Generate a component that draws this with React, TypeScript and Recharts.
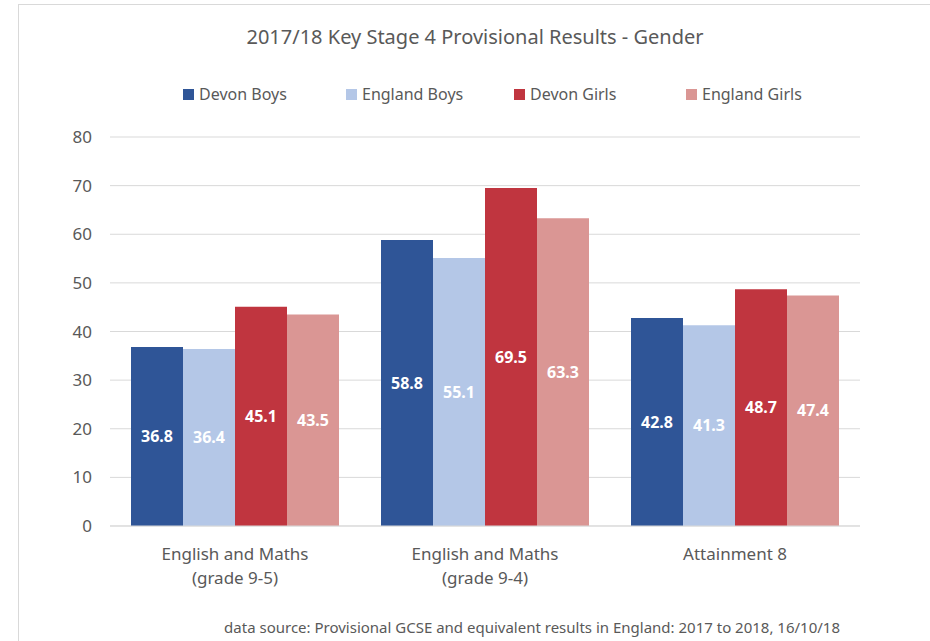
import React from 'react'
import { Bar, BarChart, CartesianGrid, LabelList, XAxis, YAxis } from 'recharts'

const categories = ['English and Maths|(grade 9-5)', 'English and Maths|(grade 9-4)', 'Attainment 8']
const devonBoys = [36.8, 58.8, 42.8]
const englandBoys = [36.4, 55.1, 41.3]
const devonGirls = [45.1, 69.5, 48.7]
const englandGirls = [43.5, 63.3, 47.4]
const yTicks = [0, 10, 20, 30, 40, 50, 60, 70, 80]

const seriesList = [
  { key: 'devonBoys', name: 'Devon Boys', color: '#2F5597' },
  { key: 'englandBoys', name: 'England Boys', color: '#B4C7E7' },
  { key: 'devonGirls', name: 'Devon Girls', color: '#C0353F' },
  { key: 'englandGirls', name: 'England Girls', color: '#DA9694' },
]
const legendLeft = [183, 346, 514, 686]

const chartData = categories.map((name, i) => ({
  name,
  devonBoys: devonBoys[i],
  englandBoys: englandBoys[i],
  devonGirls: devonGirls[i],
  englandGirls: englandGirls[i],
}))

const font = 'Noto Sans, sans-serif'
const textColor = '#595959'

function CategoryTick(props: any) {
  const { x, y, payload } = props
  const lines = String(payload.value).split('|')
  return (
    <g transform={`translate(${x},${y})`}>
      {lines.map((line, i) => (
        <text key={i} x={0} y={i * 24} dy={26} textAnchor="middle" fill={textColor} fontSize={17} fontFamily={font}>
          {line}
        </text>
      ))}
    </g>
  )
}

export default function App() {
  return (
    <div style={{ position: 'absolute', left: 0, top: 0, width: 930, height: 641, background: '#fff', overflow: 'hidden' }}>
      <div style={{ position: 'absolute', left: 18, top: 4, width: 930, height: 660, border: '1px solid #d9d9d9', boxSizing: 'border-box' }} />
      <div style={{ position: 'absolute', left: 0, top: 23, width: 950, textAlign: 'center', fontFamily: font, fontSize: 20, color: textColor }}>
        2017/18 Key Stage 4 Provisional Results - Gender
      </div>
      {seriesList.map((s, i) => (
        <div
          key={s.key}
          style={{ position: 'absolute', left: legendLeft[i], top: 83, display: 'flex', alignItems: 'center', fontFamily: font, fontSize: 16, color: textColor, whiteSpace: 'nowrap' }}
        >
          <span style={{ display: 'inline-block', width: 11, height: 11, background: s.color, marginRight: 5 }} />
          {s.name}
        </div>
      ))}
      <div style={{ position: 'absolute', right: 90, top: 617, fontFamily: font, fontSize: 15, color: textColor, whiteSpace: 'nowrap' }}>
        data source: Provisional GCSE and equivalent results in England: 2017 to 2018, 16/10/18
      </div>
      <div style={{ position: 'absolute', left: 0, top: 0 }}>
        <BarChart
          width={930}
          height={641}
          data={chartData}
          margin={{ top: 137, right: 70, bottom: 55, left: 0 }}
          barCategoryGap="8.4%"
          barGap={0}
        >
          <CartesianGrid vertical={false} stroke="#d9d9d9" />
          <XAxis
            dataKey="name"
            height={60}
            tick={<CategoryTick />}
            tickLine={false}
            axisLine={{ stroke: '#d9d9d9' }}
            interval={0}
          />
          <YAxis
            width={110}
            domain={[0, 80]}
            ticks={yTicks}
            tickLine={false}
            axisLine={false}
            tickSize={0}
            tickMargin={18}
            tick={{ fill: textColor, fontSize: 17, fontFamily: font }}
          />
          {seriesList.map(s => (
            <Bar key={s.key} dataKey={s.key} name={s.name} fill={s.color} isAnimationActive={false}>
              <LabelList dataKey={s.key} position="center" fill="#fff" fontWeight="bold" fontSize={16} fontFamily={font} />
            </Bar>
          ))}
        </BarChart>
      </div>
    </div>
  )
}
